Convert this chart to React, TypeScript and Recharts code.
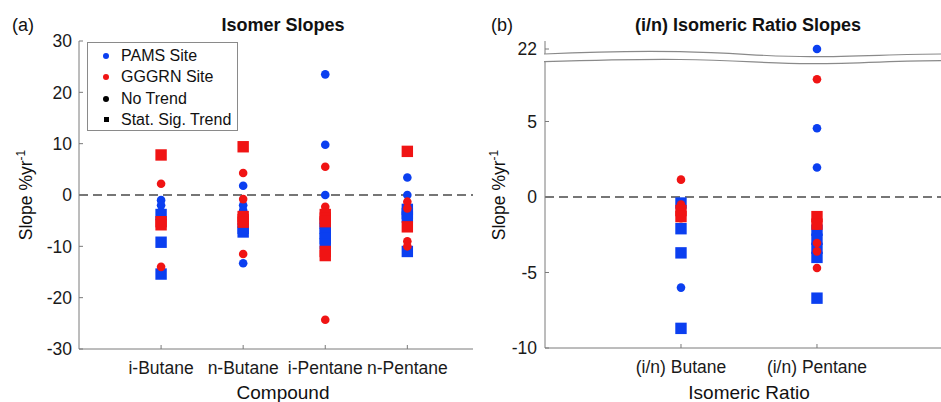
import React from 'react';
import { ScatterChart, Scatter, XAxis, YAxis, ReferenceLine } from 'recharts';

// panel (a): slopes per compound, % per year
const compounds = ['i-Butane', 'n-Butane', 'i-Pentane', 'n-Pentane'];
const pamsNoTrendA = [[-1, -2, -3.2], [1.8, -2, -3, -13.3], [23.5, 9.8, 0], [3.4, 0]];
const pamsSigA = [[-3.8, -9.2, -15.4], [-6.5, -7.2], [-5.5, -6.5, -7.5, -8.5, -9.5], [-2.8, -3.6, -4.3, -11]];
const gggrnNoTrendA = [[2.2, -14], [4.3, -0.8, -11.5], [5.5, -2.3, -24.3], [-1.3, -2.6, -9, -10]];
const gggrnSigA = [[7.8, -5.2, -5.8], [9.4, -4.2, -4.8, -5.3], [-3.8, -4.5, -5.2, -11, -11.8], [8.5, -6.2]];
const ticksA = [-30, -20, -10, 0, 10, 20, 30];

// panel (b): isomeric ratio slopes
const ratios = ['(i/n) Butane', '(i/n) Pentane'];
const pamsNoTrendB = [[-6.0], [22, 4.55, 1.95]];
const pamsSigB = [[-0.4, -2.1, -3.7, -8.7], [-2.2, -2.8, -3.4, -4, -6.7]];
const gggrnNoTrendB = [[1.15, -0.5, -1.1, -1.4], [7.8, -1.9, -3.05, -3.6, -4.7]];
const gggrnSigB = [[-0.9, -1.3], [-1.3, -1.8]];
const ticksB = [-10, -5, 0, 5, 22];

const BLUE = '#0b3ff0';
const RED = '#f01414';
const AXIS = '#7a7a7a';
const FONT = '"Liberation Sans", Arial, sans-serif';

// broken axis on (b): values above the break get squeezed in above it
const brk = (v: number) => (v > 15 ? 9.8 + (v - 22) * 0.1 : v);

const toPoints = (vals: number[][], f = (v: number) => v) =>
  vals.flatMap((list, i) => list.map((v) => ({ x: i + 1, y: f(v) })));

const dot = (color: string) => (p: any) => <circle cx={p.cx} cy={p.cy} r={4.3} fill={color} />;
const sq = (color: string) => (p: any) => (
  <rect x={p.cx - 5.7} y={p.cy - 5.7} width={11.4} height={11.4} fill={color} />
);

const tickStyle = { fill: '#1a1a1a', fontSize: 17.5, fontFamily: FONT };

const text = (s: React.CSSProperties): React.CSSProperties => ({
  position: 'absolute',
  fontFamily: FONT,
  color: '#111',
  whiteSpace: 'nowrap',
  lineHeight: '20px',
  ...s,
});

const SlopeLabel = ({ cx }: { cx: number }) => (
  <div style={text({ left: cx - 60, top: 185, width: 120, textAlign: 'center', fontSize: 17.5, transform: 'rotate(-90deg)' })}>
    Slope %yr<sup style={{ fontSize: 12, verticalAlign: 7, lineHeight: 0 }}>-1</sup>
  </div>
);

const App = () => {
  const legendRows = [
    { label: 'PAMS Site', color: BLUE, square: false },
    { label: 'GGGRN Site', color: RED, square: false },
    { label: 'No Trend', color: '#000', square: false },
    { label: 'Stat. Sig. Trend', color: '#000', square: true },
  ];

  return (
    <div style={{ position: 'absolute', left: 0, top: 0, width: 941, height: 402, background: '#fff', overflow: 'hidden' }}>
      {/* (a) Isomer Slopes */}
      <div style={{ position: 'absolute', left: 0, top: 0 }}>
        <ScatterChart width={473} height={402} margin={{ top: 41, right: 0, bottom: 0, left: 0 }}>
          <XAxis
            type="number"
            dataKey="x"
            domain={[0, 4.8]}
            ticks={[1, 2, 3, 4]}
            tickFormatter={(v) => compounds[v - 1]}
            height={53}
            stroke={AXIS}
            tickSize={-4}
            tickMargin={17}
            tick={tickStyle}
            interval={0}
          />
          <YAxis
            type="number"
            dataKey="y"
            domain={[-30, 30]}
            ticks={ticksA}
            width={79}
            stroke={AXIS}
            tickSize={-4}
            tickMargin={11}
            tick={tickStyle}
          />
          <ReferenceLine y={0} stroke="#4a4a4a" strokeWidth={1.3} strokeDasharray="9 5" />
          <Scatter data={toPoints(pamsNoTrendA)} shape={dot(BLUE)} isAnimationActive={false} />
          <Scatter data={toPoints(pamsSigA)} shape={sq(BLUE)} isAnimationActive={false} />
          <Scatter data={toPoints(gggrnNoTrendA)} shape={dot(RED)} isAnimationActive={false} />
          <Scatter data={toPoints(gggrnSigA)} shape={sq(RED)} isAnimationActive={false} />
        </ScatterChart>
      </div>

      {/* (b) (i/n) Isomeric Ratio Slopes */}
      <div style={{ position: 'absolute', left: 470, top: 0 }}>
        <ScatterChart width={471} height={402} margin={{ top: 41, right: 0, bottom: 0, left: 0 }}>
          <XAxis
            type="number"
            dataKey="x"
            domain={[0, 2.912]}
            ticks={[1, 2]}
            tickFormatter={(v) => ratios[v - 1]}
            height={54}
            stroke={AXIS}
            tickSize={-4}
            tickMargin={17}
            tick={tickStyle}
            interval={0}
          />
          <YAxis
            type="number"
            dataKey="y"
            domain={[-10, 10.33]}
            ticks={ticksB.map(brk)}
            tickFormatter={(v) => (v > 9 ? '22' : String(v))}
            width={75}
            stroke={AXIS}
            tickSize={-4}
            tickMargin={12}
            tick={tickStyle}
            allowDataOverflow
          />
          <ReferenceLine y={0} stroke="#4a4a4a" strokeWidth={1.3} strokeDasharray="9 5" />
          <Scatter data={toPoints(pamsNoTrendB, brk)} shape={dot(BLUE)} isAnimationActive={false} />
          <Scatter data={toPoints(pamsSigB, brk)} shape={sq(BLUE)} isAnimationActive={false} />
          <Scatter data={toPoints(gggrnNoTrendB, brk)} shape={dot(RED)} isAnimationActive={false} />
          <Scatter data={toPoints(gggrnSigB, brk)} shape={sq(RED)} isAnimationActive={false} />
        </ScatterChart>
      </div>

      {/* axis break marks on (b) */}
      <svg width={941} height={402} style={{ position: 'absolute', left: 0, top: 0, pointerEvents: 'none' }}>
        <path
          d="M544 54 C600 51.5 640 51 680 51.7 C740 53 770 57 813 56.7 C860 56.5 900 54 941 54 L941 60.7 C900 60.7 860 63.5 813 63.7 C770 64 740 60 680 59.5 C640 59 600 60 544 61.7 Z"
          fill="#fff"
        />
        <path d="M544 54 C600 51.5 640 51 680 51.7 C740 53 770 57 813 56.7 C860 56.5 900 54 941 54" fill="none" stroke="#8a8a8a" strokeWidth={1.2} />
        <path d="M544 61.7 C600 60 640 59 680 59.5 C740 60 770 64 813 63.7 C860 63.5 900 60.7 941 60.7" fill="none" stroke="#8a8a8a" strokeWidth={1.2} />
      </svg>

      {/* legend for (a) */}
      <div style={{ position: 'absolute', left: 87, top: 42, width: 149, height: 87, border: '1px solid #8a8a8a', background: '#fff' }}>
        {legendRows.map((r, i) => (
          <div key={r.label} style={{ position: 'absolute', left: 0, top: 3 + i * 21.3, height: 20, width: 149 }}>
            <span
              style={{
                position: 'absolute',
                left: r.square ? 15.5 : 15,
                top: r.square ? 7.5 : 7,
                width: r.square ? 5 : 6,
                height: r.square ? 5 : 6,
                borderRadius: r.square ? 0 : 3,
                background: r.color,
              }}
            />
            <span style={text({ left: 33, top: 0, fontSize: 16 })}>{r.label}</span>
          </div>
        ))}
      </div>

      {/* titles and labels */}
      <div style={text({ left: 12, top: 15, fontSize: 18 })}>(a)</div>
      <div style={text({ left: 183, top: 15, width: 200, textAlign: 'center', fontSize: 18, fontWeight: 'bold' })}>Isomer Slopes</div>
      <SlopeLabel cx={26} />
      <div style={text({ left: 183, top: 383, width: 200, textAlign: 'center', fontSize: 19 })}>Compound</div>

      <div style={text({ left: 491, top: 15, fontSize: 18 })}>(b)</div>
      <div style={text({ left: 598, top: 15, width: 300, textAlign: 'center', fontSize: 18, fontWeight: 'bold' })}>(i/n) Isomeric Ratio Slopes</div>
      <SlopeLabel cx={499} />
      <div style={text({ left: 649, top: 383, width: 200, textAlign: 'center', fontSize: 19 })}>Isomeric Ratio</div>
    </div>
  );
};

export default App;
